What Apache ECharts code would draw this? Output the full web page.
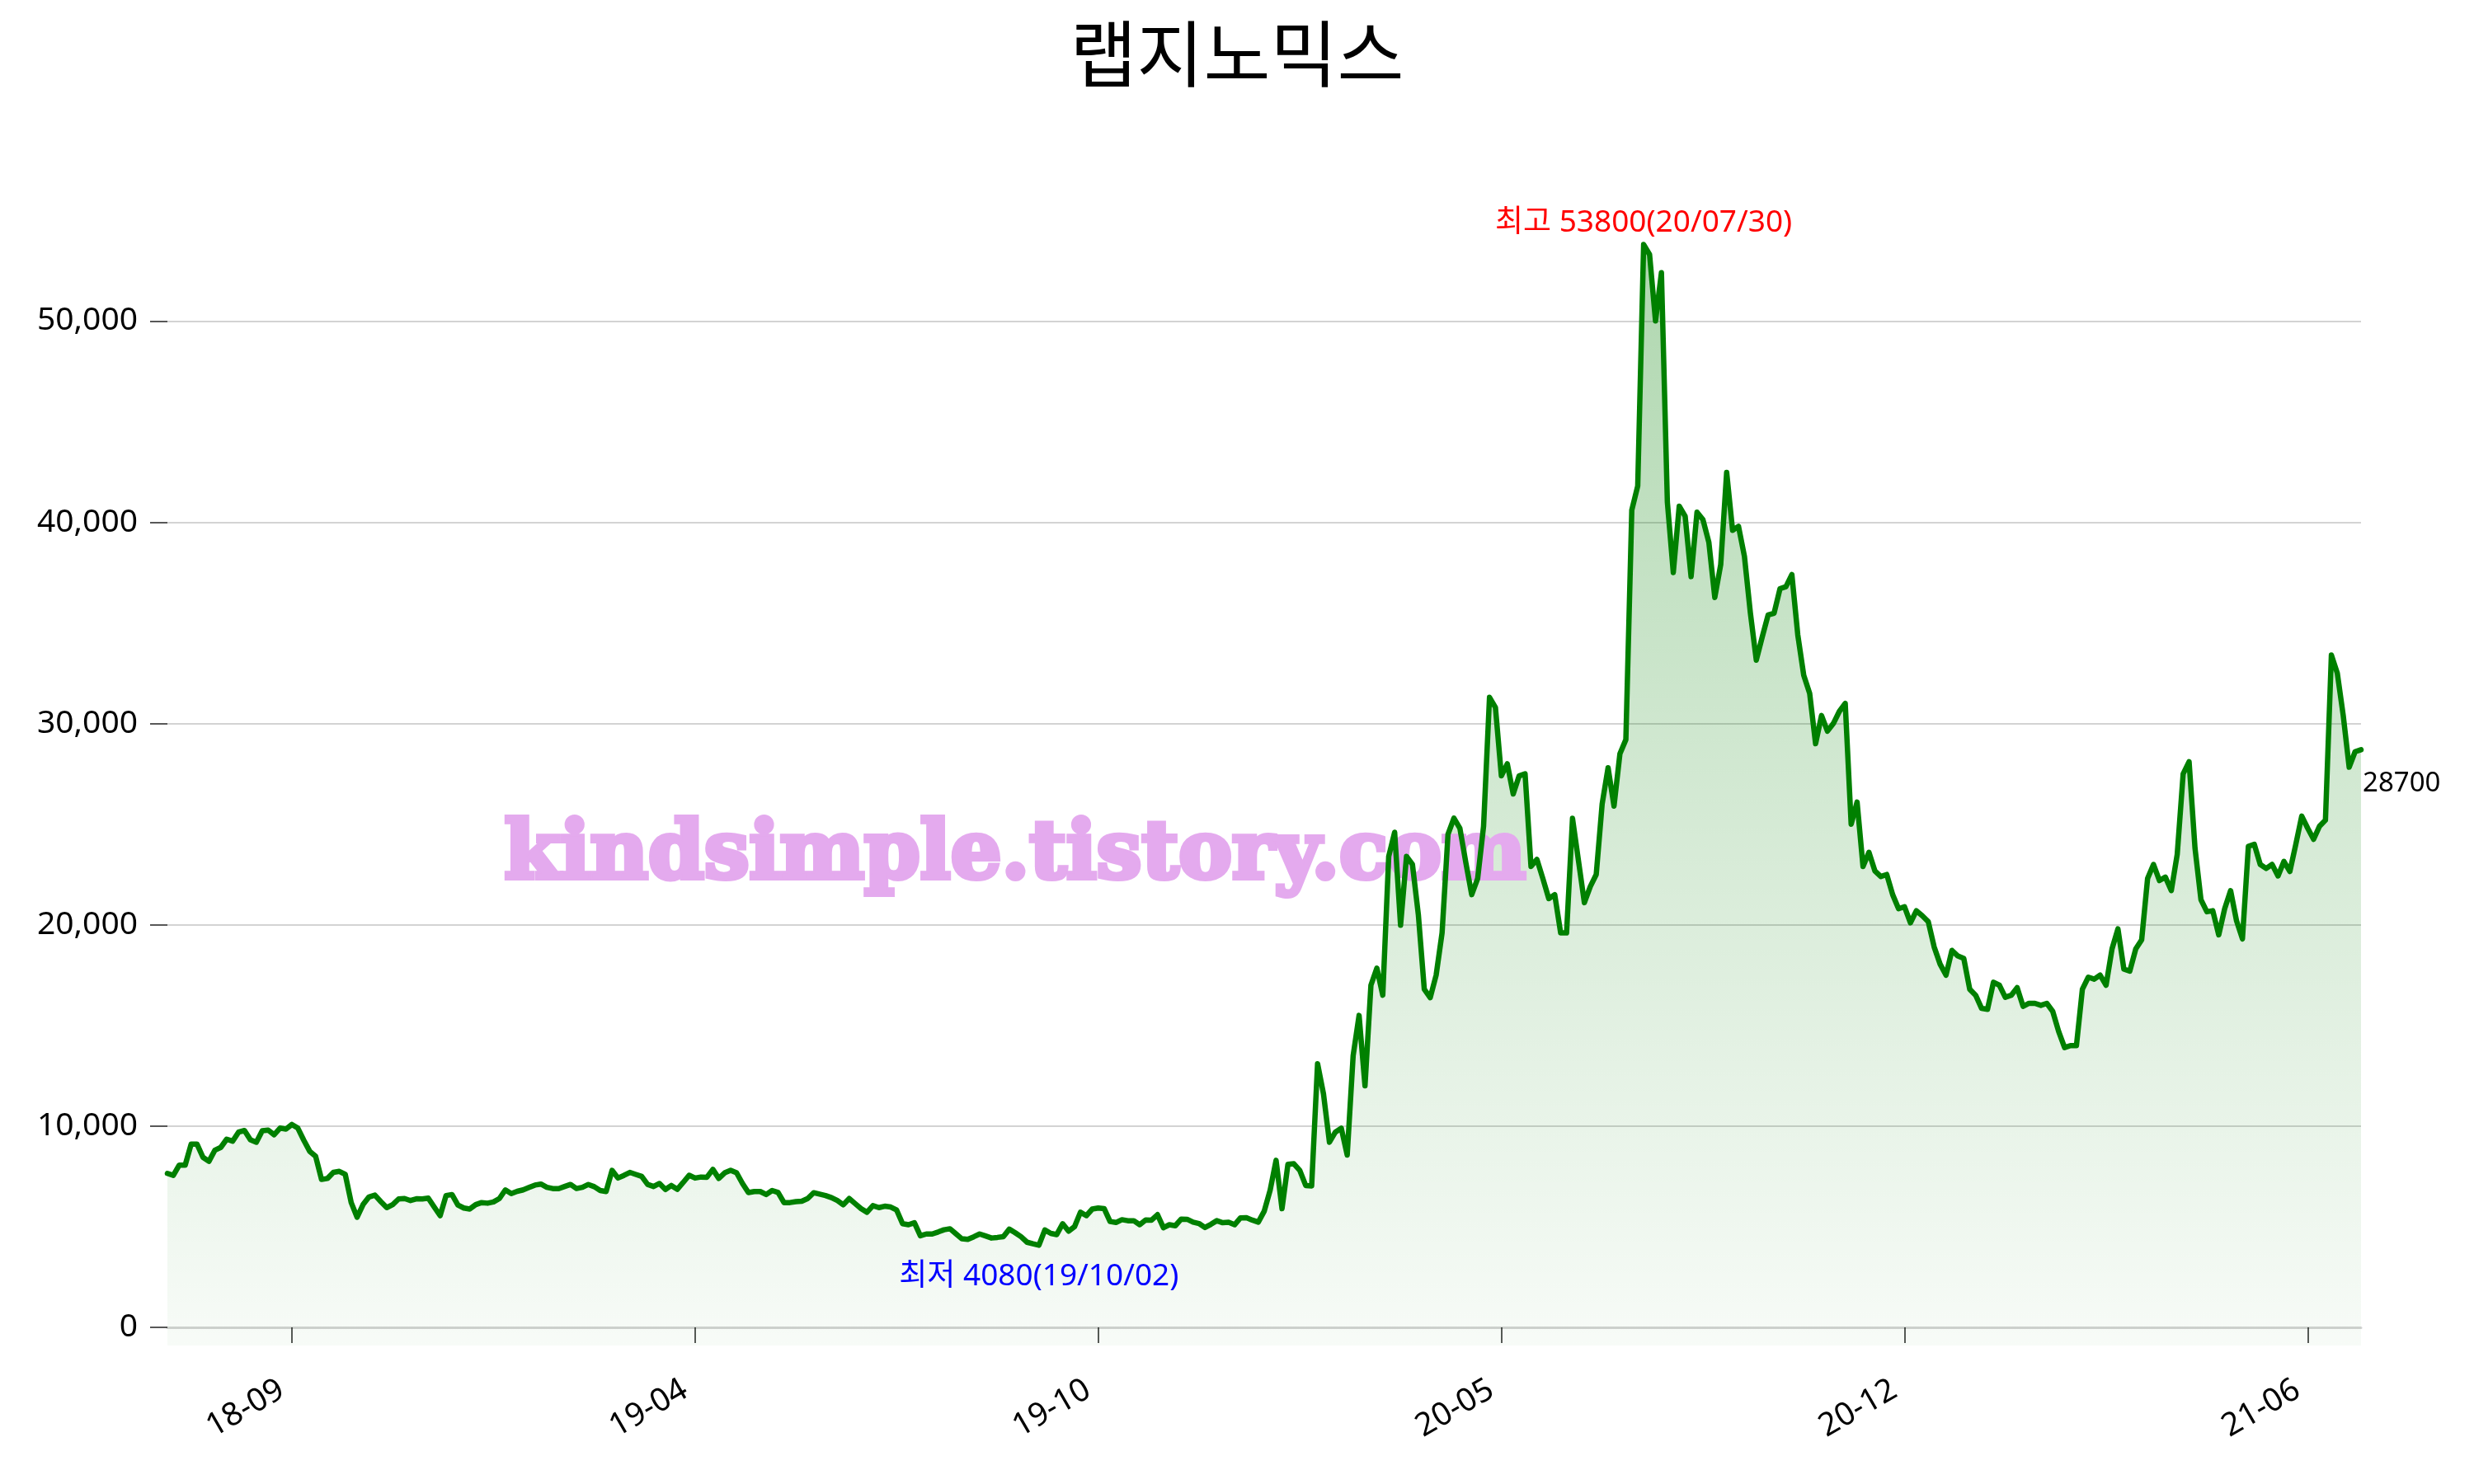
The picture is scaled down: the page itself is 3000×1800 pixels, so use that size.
<!DOCTYPE html>
<html><head><meta charset="utf-8">
<script src="https://cdn.jsdelivr.net/npm/echarts@6/dist/echarts.min.js"></script>
<style>html,body{margin:0;padding:0;background:#fff}#chart{width:3000px;height:1800px}</style>
</head><body><div id="chart"></div>
<script>
const title = '랩지노믹스';
// closing prices, sampled every 2 trading days (2018-07 .. 2021-07)
const prices = [
7650,7550,8060,8060,9100,9100,8450,8250,8800,8940,
9350,9250,9700,9780,9320,9200,9770,9800,9570,9900,
9850,10080,9900,9300,8750,8500,7350,7400,7700,7750,
7600,6200,5470,6100,6480,6570,6250,5950,6100,6380,
6400,6300,6390,6380,6420,5980,5550,6550,6600,6080,
5930,5880,6100,6200,6170,6230,6400,6830,6650,6760,
6830,6950,7070,7120,6960,6895,6895,7000,7100,6900,
6960,7100,6990,6800,6750,7800,7420,7550,7700,7600,
7500,7100,7000,7150,6850,7050,6860,7200,7560,7420,
7470,7460,7850,7400,7680,7800,7680,7150,6700,6750,
6750,6600,6800,6700,6200,6200,6250,6270,6400,6690,
6620,6550,6450,6300,6090,6400,6150,5900,5720,6050,
5950,6020,5980,5830,5150,5100,5200,4550,4640,4640,
4740,4850,4900,4650,4400,4370,4500,4640,4540,4440,
4470,4510,4880,4700,4500,4230,4150,4080,4840,4670,
4610,5150,4780,5000,5720,5550,5880,5930,5900,5260,
5210,5350,5300,5300,5100,5340,5330,5600,4950,5100,
5050,5380,5370,5230,5160,4960,5120,5300,5200,5220,
5100,5440,5450,5330,5230,5770,6820,8300,5900,8100,
8130,7800,7050,7030,13100,11600,9200,9700,9900,8560,
13500,15500,12000,17000,17850,16500,23400,24600,19980,23400,
23000,20500,16800,16380,17500,19600,24500,25300,24800,23100,
21500,22300,24900,31300,30800,27400,28000,26500,27400,27500,
22900,23250,22300,21300,21500,19600,19600,25290,23200,21100,
21900,22500,26000,27800,25900,28500,29200,40600,41800,53800,
53300,50000,52400,41000,37500,40800,40300,37300,40500,40130,
39000,36260,37900,42480,39600,39800,38300,35500,33150,34300,
35400,35480,36700,36800,37400,34400,32400,31500,29000,30400,
29620,30000,30600,31000,25000,26100,22900,23600,22680,22400,
22500,21500,20800,20900,20100,20700,20450,20160,18900,18050,
17500,18730,18450,18330,16800,16500,15850,15800,17150,17000,
16400,16500,16880,15950,16100,16100,16000,16100,15700,14700,
13900,14000,14000,16800,17400,17300,17500,17000,18800,19800,
17800,17700,18800,19250,22300,23000,22200,22370,21700,23500,
27500,28100,23800,21250,20650,20700,19500,20800,21700,20200,
19300,23900,24000,23000,22800,23000,22430,23150,22650,24000,
25400,24800,24250,24900,25200,33400,32500,30400,27830,28600,
28700
];
const tickIdx = [21, 89, 157, 225, 293, 361];
const tickLabels = ['18-09', '19-04', '19-10', '20-05', '20-12', '21-06'];
const yTicks = [0, 10000, 20000, 30000, 40000, 50000];
const highDate = '20/07/30';
const lowDate = '19/10/02';
const watermark = 'kindsimple.tistory.com';

const categories = prices.map((_, i) => i);
const lastIdx = prices.length - 1;
const LATIN = "'Noto Sans', 'Noto Sans CJK KR', sans-serif";

const chart = echarts.init(document.getElementById('chart'), null, {renderer: 'canvas'});
chart.setOption({
  animation: false,
  backgroundColor: '#ffffff',
  title: {
    text: title, left: 'center', top: 16,
    textStyle: {fontSize: 88, fontWeight: 'normal', color: '#000', fontFamily: "'Noto Sans CJK KR', sans-serif"}
  },
  grid: {left: 203, right: 137, top: 194, bottom: 168, containLabel: false, outerBoundsMode: 'none'},
  xAxis: {
    type: 'category', data: categories, boundaryGap: false,
    axisLine: {show: true, lineStyle: {color: '#d3d3d3', width: 3}},
    axisTick: {show: true, interval: (i) => tickIdx.includes(i), length: 19, lineStyle: {color: '#222', width: 1.5}},
    axisLabel: {
      interval: (i) => tickIdx.includes(i), rotate: 30, margin: 44, padding: [0, 14, 0, 0],
      fontSize: 39, color: '#000', fontFamily: LATIN,
      formatter: (v, i) => { const p = tickIdx.indexOf(i); return p >= 0 ? tickLabels[p] : ''; }
    },
    splitLine: {show: false}
  },
  yAxis: {
    type: 'value', min: -900, max: 58000,
    axisLine: {show: false},
    axisTick: {show: true, customValues: yTicks, length: 21, lineStyle: {color: '#222', width: 1.5}},
    axisLabel: {customValues: yTicks, margin: 36, fontSize: 39, color: '#000', fontFamily: LATIN,
      formatter: (v) => v.toLocaleString('en-US')},
    splitLine: {show: true, lineStyle: {color: '#d3d3d3', width: 2}}
  },
  graphic: [{
    type: 'text', x: 1231, y: 1040, z: 2,
    style: {text: watermark, fill: '#e4aaee', stroke: '#e4aaee', lineWidth: 6,
      font: "bold 97px 'DejaVu Serif', serif",
      textAlign: 'center', textVerticalAlign: 'middle'}
  }],
  series: [
    {
      type: 'line', data: prices, symbol: 'none', z: 1, silent: true,
      lineStyle: {width: 0},
      areaStyle: {origin: 'start', color: new echarts.graphic.LinearGradient(0, 0, 0, 1, [
        {offset: 0, color: 'rgba(0,128,0,0.45)'},
        {offset: 1, color: 'rgba(0,128,0,0.045)'}
      ])}
    },
    {
      type: 'line', data: prices, symbol: 'none', z: 3,
      lineStyle: {color: '#008000', width: 6.5, join: 'round', cap: 'round'},
      markPoint: {
        symbol: 'circle', symbolSize: 0, silent: true,
        data: [
          {type: 'max', label: {show: true, position: 'top', distance: 8, color: '#ff0000', fontSize: 37, fontFamily: LATIN,
            formatter: (p) => '최고 ' + p.value + '(' + highDate + ')'}},
          {type: 'min', label: {show: true, position: 'bottom', distance: 20, color: '#0000ff', fontSize: 37, fontFamily: LATIN,
            formatter: (p) => '최저 ' + p.value + '(' + lowDate + ')'}},
          {coord: [lastIdx, prices[lastIdx]], value: prices[lastIdx],
            label: {show: true, position: 'right', distance: 2, offset: [0, 41], color: '#000', fontSize: 33, fontFamily: LATIN,
              formatter: (p) => String(p.value)}}
        ]
      }
    }
  ]
});
</script>
</body></html>
